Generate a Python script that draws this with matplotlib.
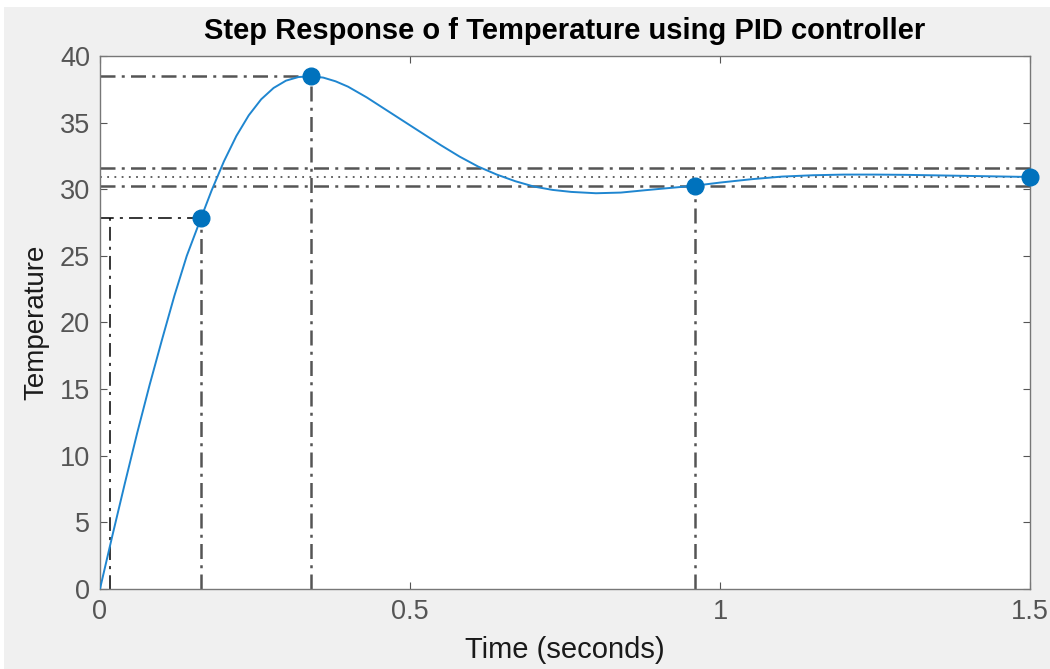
import matplotlib
matplotlib.use("Agg")
from matplotlib import pyplot as plt
from matplotlib.patches import Rectangle

# step response
tempo = [0, 0.02, 0.04, 0.06, 0.08, 0.10, 0.12, 0.14, 0.163, 0.18,
         0.20, 0.22, 0.24, 0.26, 0.28, 0.30, 0.32, 0.34, 0.36, 0.38,
         0.40, 0.43, 0.46, 0.49, 0.52, 0.55, 0.58, 0.61, 0.64, 0.67,
         0.70, 0.73, 0.76, 0.80, 0.84, 0.88, 0.92, 0.96, 1.00, 1.05,
         1.10, 1.15, 1.20, 1.25, 1.30, 1.35, 1.40, 1.45, 1.50]
temperatura = [0, 4.0, 7.9, 11.7, 15.3, 18.7, 22.0, 25.0, 27.84, 29.9,
               32.1, 34.0, 35.55, 36.75, 37.6, 38.15, 38.42, 38.48, 38.38, 38.1,
               37.7, 36.9, 36.0, 35.1, 34.2, 33.3, 32.45, 31.7, 31.1, 30.6,
               30.2, 29.95, 29.8, 29.7, 29.75, 29.93, 30.1, 30.27, 30.5, 30.75,
               30.95, 31.05, 31.1, 31.1, 31.08, 31.04, 31.0, 30.96, 30.92]

# caracteristicas (stepinfo)
rise_t = [0.016, 0.163]
rise_y = [3.09, 27.84]
pico_t, pico_y = 0.340, 38.48
sett_t, sett_y = 0.960, 30.27
faixa = [31.57, 30.27]
final_t, final_y = 1.5, 30.92

x_ticks = [0, 0.5, 1, 1.5]
x_labels = ["0", "0.5", "1", "1.5"]
y_ticks = list(range(0, 41, 5))

plt.rcParams['font.family'] = ['Liberation Sans', 'DejaVu Sans']

fig = plt.figure(figsize=(10.5, 6.69), dpi=100, facecolor="white")
fig.patches.append(Rectangle((0.004, 0), 0.996, 0.989, transform=fig.transFigure,
                             facecolor="#f0f0f0", edgecolor="none", zorder=-10))
ax = fig.add_axes([0.0952, 0.1196, 0.8858, 0.7967])

azul = "#0072BD"
cinza = "#555555"
dd = (0, (6, 2.5, 1.2, 2.5))

ax.plot(tempo, temperatura, color="#1f86d0", lw=1.4, zorder=3, solid_joinstyle="round")

# rise time
ax.plot([0, rise_t[1]], [rise_y[1], rise_y[1]], color="black", lw=1.1, ls=(0, (9, 4, 2, 4)), zorder=2)
ax.plot([rise_t[0], rise_t[0]], [0, rise_y[1]], color="black", lw=1.1, ls=(0, (9, 4, 2, 4)), zorder=2)
ax.plot([rise_t[1], rise_t[1]], [0, rise_y[1]], color=cinza, lw=1.8, ls=dd, zorder=2)

# pico
ax.plot([0, pico_t], [pico_y, pico_y], color=cinza, lw=1.8, ls=dd, zorder=2)
ax.plot([pico_t, pico_t], [0, pico_y], color=cinza, lw=1.8, ls=dd, zorder=2)

# settling
for f in faixa:
    ax.axhline(f, color=cinza, lw=1.8, ls=dd, zorder=2)
ax.axhline(final_y, color=cinza, lw=1.3, ls=(0, (1, 3)), zorder=2)
ax.plot([sett_t, sett_t], [0, sett_y], color=cinza, lw=1.8, ls=dd, zorder=2)

# marcadores
ax.plot([rise_t[1], pico_t, sett_t, final_t], [rise_y[1], pico_y, sett_y, final_y],
        ls="none", marker="o", ms=12, color=azul, zorder=5, clip_on=False)

ax.set_xlim(0, 1.5)
ax.set_ylim(0, 40)
ax.set_xticks(x_ticks)
ax.set_xticklabels(x_labels)
ax.set_yticks(y_ticks)
ax.tick_params(direction="in", length=5, width=0.8, color="#555555", labelcolor="#555555",
               labelsize=19.5, top=True, right=True, pad=7)
for s in ax.spines.values():
    s.set_color("#777777")
    s.set_linewidth(1.0)

ax.set_title("Step Response o f Temperature using PID controller", fontsize=21,
             fontweight="bold", pad=12)
ax.set_xlabel("Time (seconds)", fontsize=21, color="#1a1a1a", labelpad=8)
ax.set_ylabel("Temperature", fontsize=20, color="#1a1a1a", labelpad=8)

fig.savefig("out.png", dpi=100, facecolor=fig.get_facecolor())
